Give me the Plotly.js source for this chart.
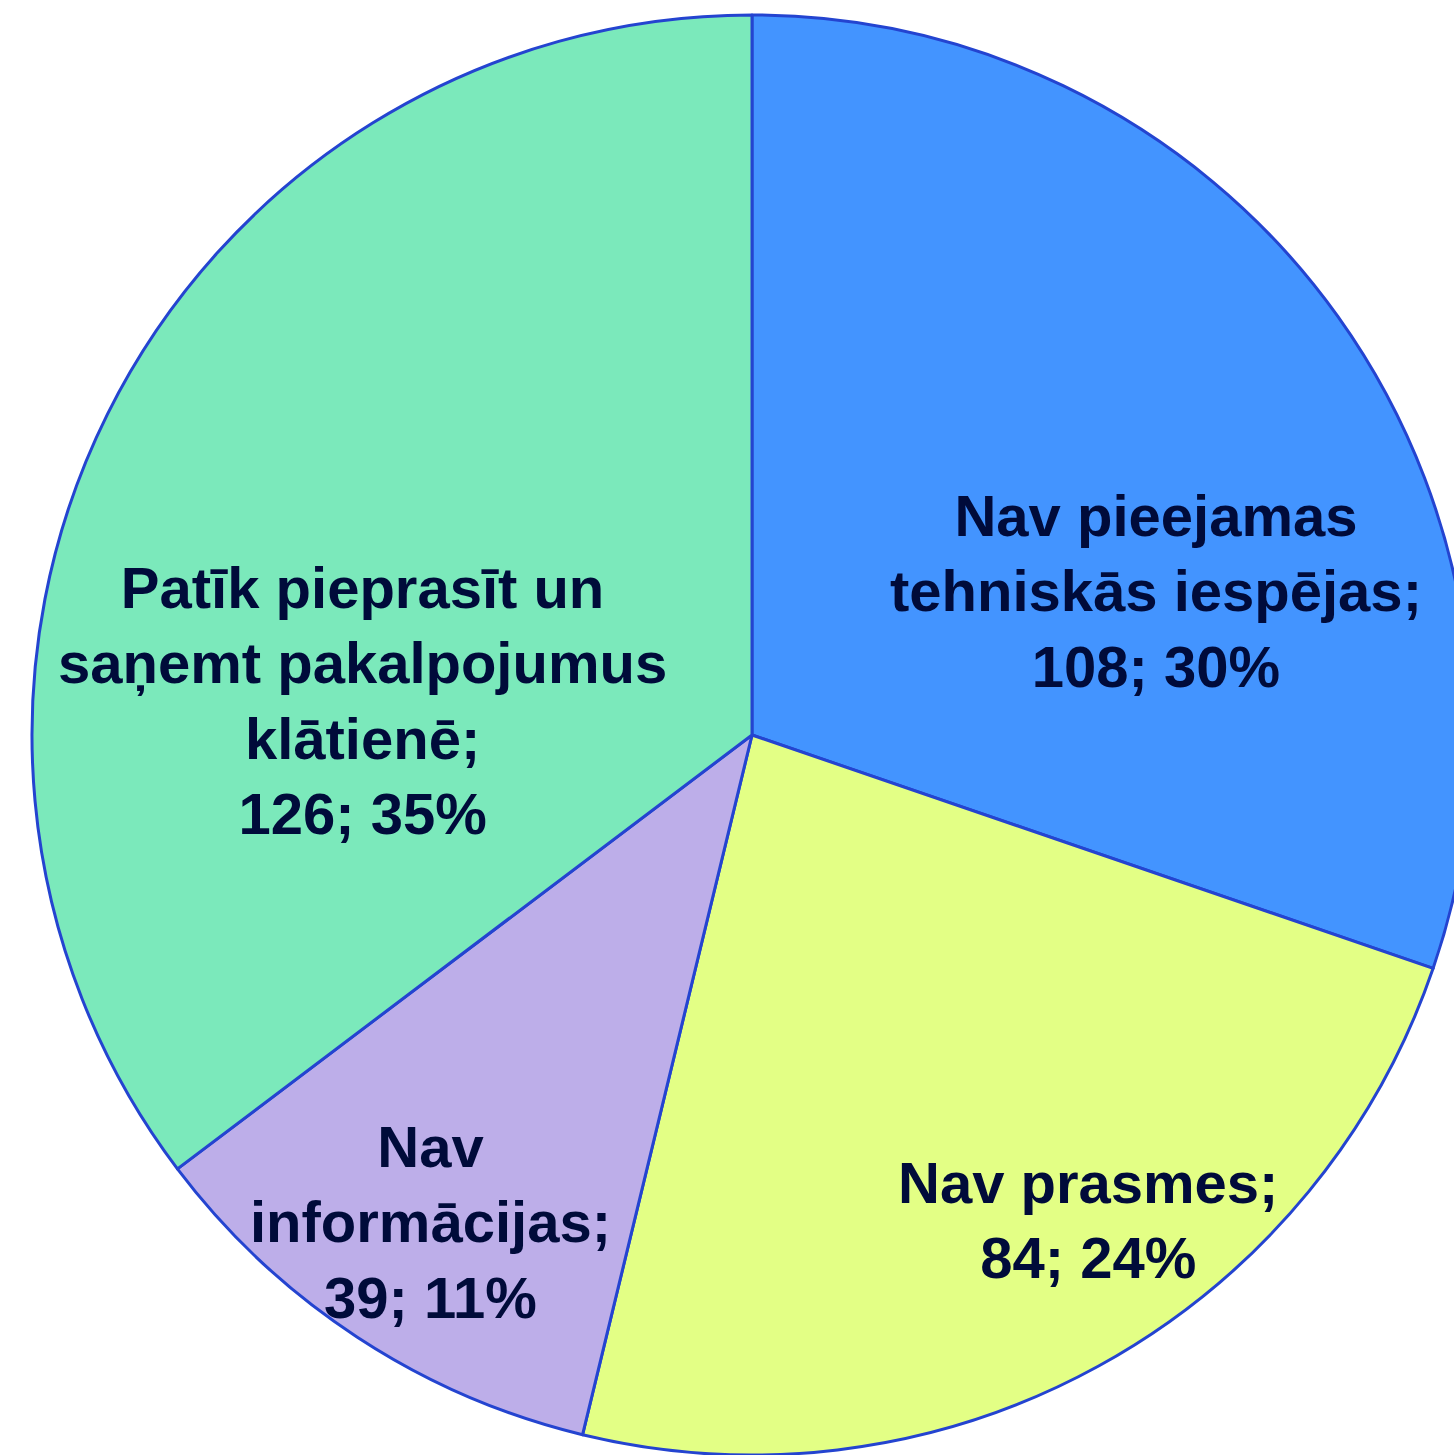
<!DOCTYPE html>
<html>
<head>
<meta charset="utf-8">
<script src="https://cdn.plot.ly/plotly-3.0.1.min.js"></script>
<style>
html, body { margin: 0; padding: 0; overflow: hidden; background: #ffffff; }
#chart { width: 1472px; height: 1455px; }
</style>
</head>
<body>
<div id="chart"></div>
<script>
// Data
const categories = [
  "Nav pieejamas<br>tehniskās iespējas;",
  "Nav prasmes;",
  "Nav<br>informācijas;",
  "Patīk pieprasīt un<br>saņemt pakalpojumus<br>klātienē;"
];
const values = [108, 84, 39, 126];
const sliceColors = ["#4394FF", "#E3FF85", "#BDAEE9", "#7BE9BB"];

const total = values.reduce((a, b) => a + b, 0);
const labelTexts = categories.map((c, i) =>
  c + "<br>" + values[i] + "; " + Math.round(values[i] / total * 100) + "%"
);

// label anchor positions (paper coords) inside each slice
const labelPos = [
  [(1156 - 32) / 1440, 1 - (591 - 15) / 1440],
  [(1088 - 32) / 1440, 1 - (1220 - 15) / 1440],
  [(430 - 32) / 1440, 1 - (1222 - 15) / 1440],
  [(362 - 32) / 1440, 1 - (700 - 15) / 1440]
];

const trace = {
  type: "pie",
  labels: categories.map(c => c.replace(/<br>/g, " ")),
  values: values,
  sort: false,
  direction: "clockwise",
  rotation: 0,
  marker: { colors: sliceColors, line: { color: "#2444D0", width: 3 } },
  textinfo: "none",
  hoverinfo: "none",
  showlegend: false,
  domain: { x: [0, 1], y: [0, 1] }
};

const annotations = labelTexts.map((t, i) => ({
  xref: "paper", yref: "paper",
  x: labelPos[i][0], y: labelPos[i][1],
  xanchor: "center", yanchor: "middle",
  text: t,
  showarrow: false,
  align: "center",
  font: { family: "Liberation Sans, Arial, sans-serif", size: 58, color: "#000B3A", weight: 700 }
}));

const layout = {
  width: 1472,
  height: 1455,
  margin: { l: 32, r: 0, t: 15, b: 0, pad: 0 },
  paper_bgcolor: "#ffffff",
  plot_bgcolor: "#ffffff",
  showlegend: false,
  annotations: annotations
};

Plotly.newPlot("chart", [trace], layout, { displayModeBar: false, staticPlot: true });
</script>
</body>
</html>
